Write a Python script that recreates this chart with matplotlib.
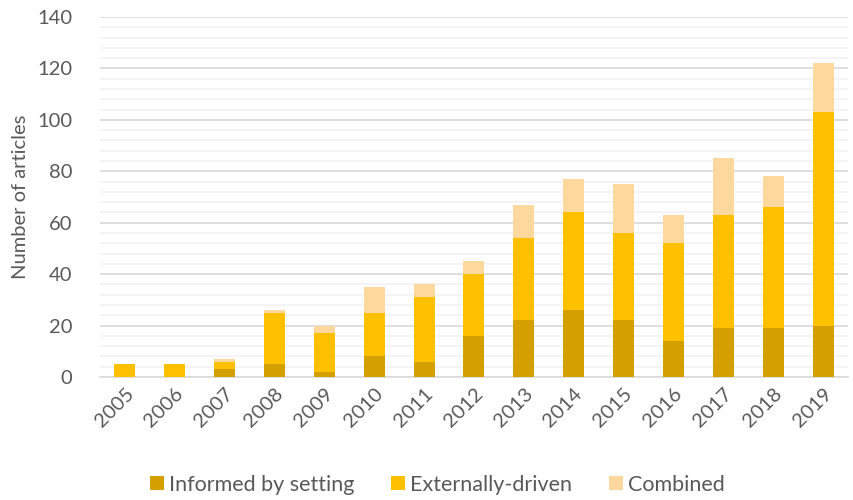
import numpy as np
import matplotlib.pyplot as plt
from matplotlib.ticker import MultipleLocator

# Articles per year, split by type
years = ['2005', '2006', '2007', '2008', '2009', '2010', '2011', '2012',
         '2013', '2014', '2015', '2016', '2017', '2018', '2019']
informed = [0, 0, 3, 5, 2, 8, 6, 16, 22, 26, 22, 14, 19, 19, 20]
external = [5, 5, 3, 20, 15, 17, 25, 24, 32, 38, 34, 38, 44, 47, 83]
combined = [0, 0, 1, 1, 3, 10, 5, 5, 13, 13, 19, 11, 22, 12, 19]

plt.rcParams['font.family'] = ['Lato', 'DejaVu Sans']
text_col = '#595959'

fig = plt.figure(figsize=(8.54, 5.0), dpi=100)
ax = fig.add_axes([0.117, 0.246, 0.876, 0.72])

x = np.arange(len(years))
w = 0.42
inf = np.array(informed)
ext = np.array(external)
com = np.array(combined)

ax.bar(x, inf, w, color='#D4A000', label='Informed by setting', zorder=3)
ax.bar(x, ext, w, bottom=inf, color='#FFC000', label='Externally-driven', zorder=3)
ax.bar(x, com, w, bottom=inf + ext, color='#FFD89E', label='Combined', zorder=3)

ax.set_xlim(-0.5, len(years) - 0.5)
ax.set_ylim(0, 140)
ax.yaxis.set_major_locator(MultipleLocator(20))
ax.yaxis.set_minor_locator(MultipleLocator(4))
ax.grid(which='major', axis='y', color='#D9D9D9', linewidth=1.2, zorder=0)
ax.grid(which='minor', axis='y', color='#F2F2F2', linewidth=1.2, zorder=0)

for s in ['top', 'right', 'left']:
    ax.spines[s].set_visible(False)
ax.spines['bottom'].set_color('#D9D9D9')
ax.spines['bottom'].set_linewidth(1.2)

ax.set_xticks(x)
ax.set_xticklabels(years, rotation=45, ha='right', rotation_mode='anchor')
ax.tick_params(axis='both', which='both', length=0, labelsize=14.5, colors=text_col)
ax.tick_params(axis='x', pad=6)
ax.tick_params(axis='y', pad=20)
ax.set_ylabel('Number of articles', fontsize=14.5, color=text_col, labelpad=6)

fig.legend(loc='lower center', bbox_to_anchor=(0.512, -0.028), ncol=3, frameon=False,
           fontsize=15.5, labelcolor=text_col, handlelength=0.65, handleheight=0.65,
           columnspacing=1.7, handletextpad=0.25)

fig.savefig('out.png', dpi=100)
